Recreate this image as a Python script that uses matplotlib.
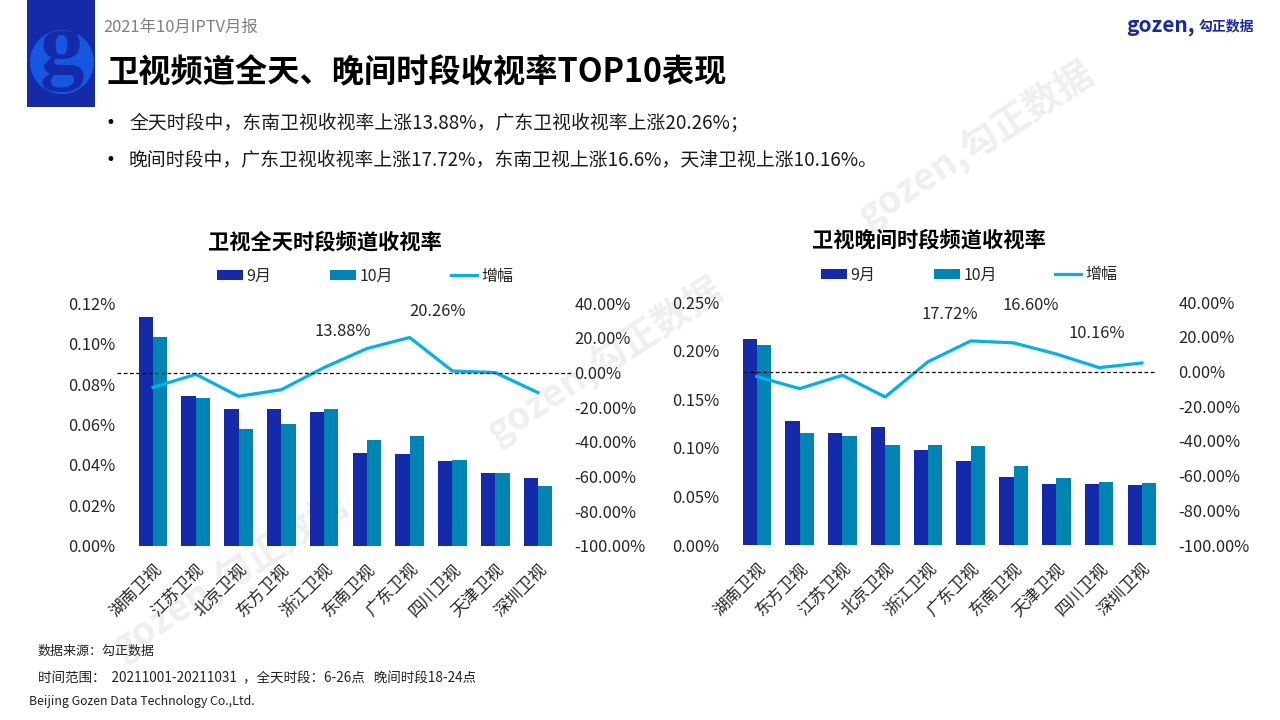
import matplotlib
matplotlib.use("Agg")
import matplotlib.pyplot as plt
from matplotlib.patches import Rectangle, Circle
from matplotlib.ticker import FuncFormatter
from matplotlib.transforms import ScaledTranslation
import numpy as np

plt.rcParams['font.family'] = ['Noto Sans CJK SC', 'DejaVu Sans']

W, H = 1280, 720
NAVY = '#152aa8'
TEAL = '#0084b4'
SKY = '#00b0f0'
INK = '#262626'

left_cats = ['湖南卫视', '江苏卫视', '北京卫视', '东方卫视', '浙江卫视', '东南卫视', '广东卫视', '四川卫视', '天津卫视', '深圳卫视']
left_sep = [0.1132, 0.0741, 0.0676, 0.0676, 0.0661, 0.0459, 0.0454, 0.0419, 0.0360, 0.0335]
left_oct = [0.1033, 0.0731, 0.0577, 0.0602, 0.0676, 0.0523, 0.0543, 0.0424, 0.0360, 0.0295]
left_growth = [-8.6, -1.0, -13.7, -9.9, 2.9, 13.88, 20.26, 0.9, 0.0, -11.6]
left_labels = {5: (-24, 17), 6: (28, 26)}

right_cats = ['湖南卫视', '东方卫视', '江苏卫视', '北京卫视', '浙江卫视', '广东卫视', '东南卫视', '天津卫视', '四川卫视', '深圳卫视']
right_sep = [0.2122, 0.1277, 0.1154, 0.1216, 0.0979, 0.0865, 0.0700, 0.0628, 0.0628, 0.0618]
right_oct = [0.2060, 0.1154, 0.1123, 0.1030, 0.1030, 0.1020, 0.0814, 0.0690, 0.0649, 0.0639]
right_growth = [-2.9, -9.8, -2.1, -14.6, 5.7, 17.72, 16.60, 10.16, 2.3, 5.0]
right_labels = {5: (-21, 26), 6: (17, 37), 7: (40, 21)}

left_ticks = [0, 0.02, 0.04, 0.06, 0.08, 0.10, 0.12]
right_ticks = [0, 0.05, 0.10, 0.15, 0.20, 0.25]
growth_ticks = [-100, -80, -60, -40, -20, 0, 20, 40]

fig = plt.figure(figsize=(W / 100, H / 100), dpi=100, facecolor='white')

bg = fig.add_axes([0, 0, 1, 1], zorder=-1)
bg.set_xlim(0, W)
bg.set_ylim(H, 0)
bg.axis('off')

# watermarks
for x, y in [(976, 144), (605, 360), (230, 575)]:
    bg.text(x, y, 'gozen,勾正数据', fontsize=27, fontweight='bold', color='#efefef',
            rotation=33, ha='center', va='center', rotation_mode='anchor')

# logo block
bg.add_patch(Rectangle((27, 0), 68, 107, color=NAVY, lw=0))
bg.add_patch(Circle((62, 62), 32, color='#1557e0', lw=0))
bg.text(62, 52, 'g', family='Liberation Serif', fontweight='bold', fontsize=64, color=NAVY,
        ha='center', va='center')

# header text
bg.text(103, 27, '2021年10月IPTV月报', fontsize=11.8, color='#7f7f7f', va='center')
bg.text(107, 72.5, '卫视频道全天、晚间时段收视率TOP10表现', fontsize=23.2, fontweight='bold', color='black', va='center')
bg.text(1126, 26, 'gozen,', fontsize=15, fontweight='bold', color=NAVY, va='center')
bg.text(1199, 26, '勾正数据', fontsize=10, fontweight='bold', color=NAVY, va='center')
for y, s in [(122, '全天时段中，东南卫视收视率上涨13.88%，广东卫视收视率上涨20.26%；'),
             (159, '晚间时段中，广东卫视收视率上涨17.72%，东南卫视上涨16.6%，天津卫视上涨10.16%。')]:
    bg.text(105, y + 1, '•', fontsize=12, va='center', family='DejaVu Sans')
    bg.text(129, y + 1.5, s, fontsize=13.55, color='#1a1a1a', va='center')

# footer
bg.text(38, 651, '数据来源：勾正数据', fontsize=9.4, color='#222222', va='center')
bg.text(38, 678, '时间范围：  20211001-20211031  ，全天时段：6-26点   晚间时段18-24点', fontsize=9.75, color='#222222', va='center')
bg.text(29, 701, 'Beijing Gozen Data Technology Co.,Ltd.', fontsize=8.9, color='#222222', va='center')


def panel(x0, x1, y_top, y_bot, title, title_xy, cats, sep, oct_, growth, ticks, ymax, labels, dash, legend_xy):
    ax = fig.add_axes([x0 / W, 1 - y_bot / H, (x1 - x0) / W, (y_bot - y_top) / H])
    ax.patch.set_alpha(0)
    x = np.arange(len(cats))
    w = 0.335
    ax.bar(x - w / 2, sep, w, color=NAVY, label='9月')
    ax.bar(x + w / 2, oct_, w, color=TEAL, label='10月')
    ax.set_xlim(-0.5, len(cats) - 0.5)
    ax.set_ylim(0, ymax)
    ax.set_yticks(ticks)
    ax.yaxis.set_major_formatter(FuncFormatter(lambda v, _: f'{v:.2f}%'))
    ax.set_xticks(x)
    ax.set_xticklabels(cats, rotation=45, ha='right', va='top', rotation_mode='anchor', fontsize=12, color=INK)
    shift = ScaledTranslation(-3 / 100, 0, fig.dpi_scale_trans)
    for lab in ax.get_xticklabels():
        lab.set_transform(lab.get_transform() + shift)
    ax.tick_params(axis='both', length=0)
    ax.tick_params(axis='y', labelsize=11.9, labelcolor=INK, pad=11.5)
    ax.tick_params(axis='x', pad=11)
    for s in ax.spines.values():
        s.set_visible(False)

    ax2 = ax.twinx()
    ax2.patch.set_alpha(0)
    ln, = ax2.plot(x, growth, color=SKY, lw=2.3, label='增幅', solid_joinstyle='round')
    ax2.set_ylim(-100, 40)
    ax2.set_yticks(growth_ticks)
    ax2.yaxis.set_major_formatter(FuncFormatter(lambda v, _: f'{v:.2f}%'))
    ax2.tick_params(axis='y', length=0, labelsize=11.9, labelcolor=INK, pad=10.7)
    for s in ax2.spines.values():
        s.set_visible(False)
    ax2.plot(dash, [0, 0], transform=ax2.get_yaxis_transform(), color='black', lw=0.9,
             ls=(0, (3, 2)), clip_on=False)
    for i, (dx, dy) in labels.items():
        ax2.annotate(f'{growth[i]:.2f}%', (x[i], growth[i]), xytext=(dx * 0.72, dy * 0.72),
                     textcoords='offset points', ha='center', va='center', fontsize=11.9, color=INK)

    bg.text(title_xy[0], title_xy[1], title, fontsize=15.3, fontweight='bold', ha='center', va='center', color='black')
    h1, l1 = ax.get_legend_handles_labels()
    fig.legend(h1 + [ln], l1 + ['增幅'], ncol=3, frameon=False, fontsize=11.5,
               loc='center', bbox_to_anchor=(legend_xy[0] / W, 1 - legend_xy[1] / H),
               handlelength=1.6, handleheight=0.55, handletextpad=0.25, columnspacing=3.65,
               labelcolor=INK)
    return ax


panel(131.6, 559.4, 303.3, 545.7, '卫视全天时段频道收视率', (325, 242), left_cats, left_sep, left_oct,
      left_growth, left_ticks, 0.12, left_labels, (-0.033, 1.031), (365, 276))
panel(735.5, 1163.3, 302.3, 545.0, '卫视晚间时段频道收视率', (929, 240), right_cats, right_sep, right_oct,
      right_growth, right_ticks, 0.25, right_labels, (0.021, 0.98), (969, 275))

fig.savefig('out.png', dpi=100, facecolor='white')
